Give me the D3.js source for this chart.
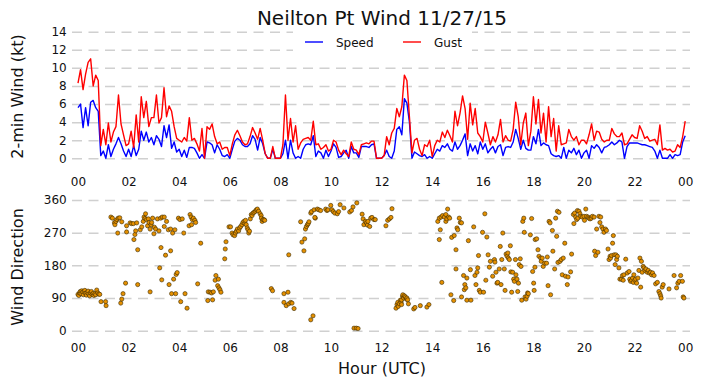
<!DOCTYPE html>
<html>
<head>
<meta charset="utf-8">
<script src="https://cdn.jsdelivr.net/npm/d3@7"></script>
<style>
  body { margin: 0; background: #fff; }
  text { font-family: "DejaVu Sans", sans-serif; fill: #111; }
</style>
</head>
<body>
<svg width="702" height="388"></svg>
<script>
var width = 702;
var height = 388;

// readings every 6 minutes from 00:00 to 24:00 UTC (10 per hour, one row per hour)
var speed = [
  5.6, 6.0, 3.4, 5.6, 3.6, 6.2, 6.4, 5.6, 5.2, 0.3,
  0.8, 0.0, 1.5, 0.2, 1.0, 1.6, 2.3, 1.6, 0.8, 0.2,
  1.0, 0.2, 1.4, 0.3, 1.0, 3.0, 2.0, 2.9, 1.8, 2.3,
  1.5, 2.5, 2.1, 1.3, 3.6, 2.3, 3.7, 1.1, 1.8, 0.7,
  1.0, 0.2, 0.9, 0.1, 1.2, 1.2, 1.1, 0.6, 0.0, 0.4,
  0.0, 1.8, 1.7, 1.5, 0.6, 1.5, 1.0, 0.3, 0.2, 0.4,
  0.0, 1.0, 1.9, 2.2, 2.0, 1.5, 1.3, 1.3, 1.6, 2.5,
  2.1, 0.9, 2.3, 1.6, 0.5, 0.0, 0.0, 1.0, 0.0, 0.0,
  0.0, 0.5, 2.0, 0.0, 2.0, 0.6, 0.0, 0.2, 0.0, 1.0,
  1.5, 1.6, 1.5, 2.5, 0.2, 0.8, 0.6, 0.0, 0.9, 0.2,
  0.8, 1.6, 1.2, 0.1, 0.2, 0.6, 0.9, 0.0, 1.3, 0.6,
  0.6, 0.1, 1.3, 1.3, 1.3, 1.2, 1.5, 1.6, 0.0, 0.0,
  0.0, 0.3, 0.9, 0.2, 0.0, 0.8, 3.2, 3.5, 2.6, 6.6,
  6.1, 4.0, 0.0, 0.7, 0.5, 0.3, 0.2, 0.4, 0.0, 0.2,
  0.0, 0.5, 1.0, 0.8, 1.4, 1.2, 1.6, 1.0, 0.8, 1.8,
  1.0, 1.4, 2.0, 2.7, 0.3, 1.6, 0.8, 1.4, 0.5, 1.8,
  1.0, 1.6, 0.6, 1.0, 1.3, 0.6, 1.3, 1.5, 0.3, 1.2,
  1.3, 1.2, 1.8, 3.2, 2.2, 1.0, 2.0, 1.1, 0.9, 0.9,
  2.4, 1.6, 3.2, 1.4, 1.7, 1.5, 1.4, 0.5, 0.3, 0.2,
  0.3, 0.0, 1.2, 0.0, 0.9, 0.6, 1.1, 0.4, 0.9, 0.0,
  0.6, 0.9, 0.0, 1.4, 1.1, 1.5, 1.2, 0.6, 1.2, 1.3,
  1.5, 1.8, 1.5, 1.7, 2.0, 1.8, 0.0, 1.3, 1.7, 1.7,
  1.7, 1.7, 1.6, 1.5, 1.5, 1.4, 1.3, 1.2, 0.8, 0.0,
  0.9, 0.0, 0.0, 0.0, 0.4, 0.0, 0.4, 0.3, 0.4, 1.8,
  2.5
];
var gust = [
  8.3, 9.8, 7.6, 9.3, 10.6, 11.0, 8.0, 9.2, 8.6, 1.4,
  3.2, 1.5, 3.9, 1.8, 2.9, 3.5, 7.0, 3.8, 2.6, 1.4,
  1.6, 3.0, 1.2, 4.8, 1.8, 6.8, 4.5, 6.3, 3.5, 4.5,
  4.5, 7.0, 3.9, 4.5, 7.8, 4.6, 5.8, 5.2, 3.5, 2.2,
  2.0, 1.8, 2.3, 1.9, 4.5, 2.0, 2.2, 1.6, 0.8, 3.3,
  0.0, 3.5, 3.2, 3.8, 2.4, 1.6, 1.8, 1.0, 1.2, 1.2,
  0.3, 1.6, 2.6, 3.1, 2.5, 1.8, 1.5, 1.6, 2.4, 3.4,
  2.8, 2.1, 3.3, 2.0, 0.5, 0.0, 0.0, 1.3, 0.0, 0.0,
  0.0, 1.5, 7.0, 2.0, 4.4, 1.8, 3.6, 1.0, 1.7, 2.1,
  2.2, 2.3, 2.0, 4.1, 1.5, 1.6, 1.0, 1.2, 1.5, 0.8,
  1.0, 2.0, 1.8, 0.9, 0.4, 0.9, 0.5, 0.2, 1.8, 1.0,
  0.9, 0.4, 1.5, 1.6, 1.7, 1.6, 1.9, 1.9, 0.0, 0.0,
  0.0, 0.3, 2.4, 1.5, 2.8, 3.3, 5.5, 4.6, 5.7, 9.2,
  8.6, 4.6, 0.6, 2.0, 2.2, 1.0, 0.3, 1.5, 1.3, 2.0,
  0.2, 1.4, 2.0, 1.8, 2.9, 2.3, 3.1, 2.5, 1.8, 5.2,
  3.6, 5.0, 6.9, 5.5, 2.1, 6.1, 3.7, 5.5, 2.8, 2.4,
  1.8, 4.0, 2.8, 1.5, 2.4, 1.8, 2.6, 4.3, 1.8, 2.5,
  2.0, 1.9, 3.2, 6.2, 4.6, 1.5, 3.9, 5.0, 1.4, 3.0,
  6.8, 3.8, 6.5, 2.8, 5.0, 1.8, 5.7, 2.4, 4.4, 0.8,
  3.6, 1.5, 1.6, 1.7, 3.2, 2.4, 2.0, 2.4, 1.5, 2.0,
  2.0, 1.6, 2.6, 3.8, 2.0, 3.0, 2.9, 2.1, 1.8, 2.0,
  2.0, 3.3, 2.7, 2.4, 2.4, 2.8, 1.5, 1.6, 2.1, 2.6,
  2.3, 2.2, 3.6, 3.0, 2.2, 2.4, 1.9, 2.0, 2.1, 1.5,
  3.7, 0.9, 1.1, 0.9, 1.0, 0.7, 0.8, 1.5, 1.2, 2.4,
  4.1
];

// wind direction readings: hour (UTC) and degrees
var dirHour = [
  0.00,0.03,0.06,0.09,0.12,0.15,0.18,0.21,0.24,0.27,0.30,0.33,0.36,0.40,0.43,0.46,0.50,0.53,0.56,0.60,
  0.63,0.67,0.70,0.74,0.78,0.82,0.86,0.91,1.09,1.11,
  1.30,1.36,1.44,1.46,1.50,1.54,1.57,1.59,1.65,1.69,1.73,1.73,1.78,1.88,1.92,1.92,
  2.06,2.12,2.19,2.21,2.25,2.28,2.32,2.36,2.36,2.46,2.52,2.58,2.61,2.65,2.67,2.71,2.75,2.78,2.81,2.85,2.85,2.89,2.91,2.95,
  3.00,3.02,3.07,3.14,3.20,3.23,3.27,3.28,3.31,3.33,3.41,3.41,3.46,3.50,3.57,3.60,3.66,3.66,3.70,3.74,3.78,3.83,3.86,3.88,3.92,3.97,
  4.03,4.06,4.12,4.18,4.23,4.31,4.39,4.43,4.47,4.49,4.52,4.56,4.62,4.65,4.73,4.85,
  5.13,5.15,5.22,5.28,5.32,5.35,5.42,5.45,5.52,5.55,5.57,5.61,5.65,5.80,5.82,5.85,5.97,
  6.03,6.09,6.13,6.19,6.22,6.26,6.30,6.35,6.39,6.43,6.48,6.52,6.56,6.60,6.62,6.65,6.69,6.72,6.75,6.78,
  6.81,6.85,6.88,6.92,6.96,7.01,7.05,7.09,7.14,7.20,7.24,7.25,7.28,7.31,7.35,7.38,
  7.64,7.69,8.14,8.14,8.23,8.30,8.33,8.33,8.41,8.46,8.54,
  8.80,8.85,8.93,8.96,8.99,9.03,9.07,9.10,9.13,9.20,9.29,9.20,9.23,9.33,9.38,9.36,9.46,9.52,9.59,9.79,
  9.84,9.88,9.99,10.04,10.09,10.15,10.25,10.30,10.36,10.51,10.74,10.81,10.87,10.91,11.00,11.02,11.07,
  11.23,11.27,11.30,11.36,11.40,11.44,11.46,11.53,11.57,11.62,11.70,11.75,12.17,12.24,12.31,12.37,12.41,
  12.57,12.61,12.64,12.66,12.70,12.74,12.77,12.79,12.79,12.83,12.84,12.87,12.90,12.94,12.98,13.00,13.03,13.06,
  13.27,13.32,13.53,13.79,13.87,
  14.22,14.28,14.28,14.32,14.35,14.38,14.41,14.48,14.54,14.54,14.58,14.61,14.65,14.69,14.74,14.77,14.85,14.87,14.94,14.94,
  14.98,15.01,15.07,15.11,15.16,15.16,15.24,15.27,15.29,15.33,15.37,15.37,15.43,15.51,15.53,15.64,15.69,15.73,15.77,15.80,
  15.83,15.86,15.90,15.99,16.03,16.08,16.12,16.16,16.21,16.26,16.30,16.39,16.46,16.48,16.52,16.56,16.59,16.65,16.69,16.72,
  16.75,16.79,16.85,16.88,16.92,16.96,16.99,17.01,17.05,17.09,17.11,17.14,17.18,17.22,17.25,17.29,17.31,17.35,17.38,17.41,
  17.44,17.48,17.51,17.54,17.58,17.62,17.64,17.67,17.71,17.75,17.77,17.80,17.88,17.93,17.97,18.01,18.03,18.06,18.07,
  18.13,18.18,18.22,18.29,18.31,18.35,18.39,18.45,18.52,18.55,18.58,18.62,18.66,18.68,18.75,18.77,18.84,18.88,18.92,18.95,
  18.97,19.01,19.05,19.10,19.14,19.18,19.24,19.27,19.34,19.37,19.47,19.51,19.58,19.60,19.63,19.67,19.71,19.74,19.76,19.80,
  19.84,19.87,19.93,20.00,20.02,20.07,20.10,20.16,20.20,20.24,20.29,20.33,20.40,20.42,20.46,20.50,20.55,20.59,20.63,20.66,
  20.70,20.75,20.79,20.85,20.89,20.95,20.99,21.03,21.05,21.09,21.13,21.16,21.19,21.23,21.26,21.29,21.32,21.38,21.42,21.48,
  21.52,21.55,21.58,21.65,21.71,21.78,21.81,21.84,21.88,21.92,21.95,21.97,22.01,22.04,22.08,22.13,22.17,22.21,22.24,22.27,
  22.30,22.34,22.37,22.41,22.45,22.50,22.54,22.58,22.63,22.67,22.71,22.77,22.83,22.90,22.96,23.00,23.03,23.05,23.09,23.13,
  23.36,23.56,23.66,23.71,23.76,23.82,23.89,23.92,23.95
];
var dirDeg = [
  100,97,104,108,102,110,106,99,107,111,103,98,105,109,101,96,104,108,100,103,
  97,102,99,112,104,101,100,80,80,69,
  313,310,297,292,301,306,269,310,311,76,87,300,102,131,289,272,
  297,295,295,251,265,275,297,223,127,278,286,301,313,309,322,306,289,308,298,280,107,292,298,310,
  267,285,280,308,275,173,310,229,140,313,313,287,208,301,278,127,280,220,102,269,142,278,102,155,160,310,
  306,80,308,269,102,62,289,320,313,292,306,310,304,298,129,241,
  83,107,106,104,85,107,139,152,124,142,118,113,106,198,225,245,286,
  286,269,264,262,269,274,280,275,283,287,292,298,301,295,304,292,283,278,269,274,
  308,320,317,324,326,329,333,335,329,322,317,310,301,306,306,304,
  116,110,102,78,69,106,74,209,78,76,61,
  300,244,220,253,280,287,292,295,300,30,41,324,328,333,310,312,335,333,331,335,
  331,333,345,333,328,324,322,328,347,338,327,331,341,7,7,352,6,
  321,308,292,301,297,291,301,287,310,312,306,306,289,304,308,312,336,
  62,72,78,67,74,84,78,85,72,95,99,90,96,93,87,90,85,74,
  60,64,69,65,72,
  301,310,251,278,313,133,317,313,320,301,308,335,313,310,99,257,83,262,223,170,
  283,278,310,298,297,93,152,113,127,118,145,84,248,168,84,286,152,127,161,173,
  207,111,106,271,106,322,139,258,209,175,191,150,196,189,161,131,133,170,232,127,
  196,269,170,111,211,205,214,200,196,234,162,106,161,142,136,196,154,142,108,131,
  182,198,177,84,301,310,271,93,87,95,104,102,264,309,163,131,111,175,251,
  253,223,205,200,191,200,177,186,186,203,124,301,297,99,276,219,170,310,260,329,
  188,326,191,196,154,200,241,150,127,148,162,211,320,295,324,313,306,331,310,329,
  322,315,313,315,304,335,315,313,310,308,310,315,313,219,207,280,216,315,298,313,
  286,280,271,280,276,225,196,205,200,207,241,262,209,182,209,196,205,173,142,142,
  152,139,154,197,159,163,142,136,139,145,133,154,139,142,131,145,166,200,120,191,
  161,177,173,166,170,161,166,159,161,154,159,152,129,133,108,102,96,90,120,127,
  115,152,118,131,136,152,136,93,90
];

var hourTicks = [0, 2, 4, 6, 8, 10, 12, 14, 16, 18, 20, 22, 24];
var windTicks = [0, 2, 4, 6, 8, 10, 12, 14];
var dirTicks = [0, 90, 180, 270, 360];

var svg = d3.select('svg');

var x = d3.scaleLinear().domain([0, 24]).range([78, 685.2]);
var yWind = d3.scaleLinear().domain([0, 14]).range([158.3, 31.7]);
var yDir = d3.scaleLinear().domain([0, 360]).range([330.7, 200]);

var hourFormat = function (d) { return d3.format("02d")(d % 24); };

// gridlines + y tick labels
function drawGrid(scale, ticks) {
    var g = svg.append("g")
        .attr("transform", "translate(72,0)")
        .call(d3.axisLeft(scale).tickValues(ticks).tickSize(-618).tickPadding(5.3));
    g.select(".domain").remove();
    g.selectAll(".tick line")
        .attr("stroke", "#d0d0d0")
        .attr("stroke-width", 1.5)
        .attr("stroke-dasharray", "10,6.5");
    g.selectAll(".tick text")
        .attr("font-size", "12px")
        .attr("font-family", "DejaVu Sans")
        .attr("fill", "#111");
    return g;
}

function drawHours(yPos) {
    var g = svg.append("g")
        .attr("transform", "translate(0," + yPos + ")")
        .call(d3.axisBottom(x).tickValues(hourTicks).tickFormat(hourFormat).tickSize(0).tickPadding(0));
    g.select(".domain").remove();
    g.selectAll(".tick text")
        .attr("font-size", "12px")
        .attr("font-family", "DejaVu Sans")
        .attr("fill", "#111");
}

drawGrid(yWind, windTicks);
drawGrid(yDir, dirTicks);
drawHours(177);
drawHours(343);

// speed / gust lines
var windLine = function (values) {
    return d3.line()
        .x(function (d, i) { return x(i / 10); })
        .y(function (d) { return yWind(d); })(values);
};

svg.append("path")
    .attr("d", windLine(speed))
    .attr("fill", "none")
    .attr("stroke", "#0000ff")
    .attr("stroke-width", 1.4)
    .attr("stroke-linejoin", "round");

svg.append("path")
    .attr("d", windLine(gust))
    .attr("fill", "none")
    .attr("stroke", "#ff0000")
    .attr("stroke-width", 1.4)
    .attr("stroke-linejoin", "round");

// wind direction dots
svg.append("g").selectAll("circle")
    .data(dirHour)
    .enter()
    .append("circle")
    .attr("cx", function (d) { return x(d); })
    .attr("cy", function (d, i) { return yDir(dirDeg[i]); })
    .attr("r", 2.1)
    .attr("fill", "#e59000")
    .attr("stroke", "#3a2a00")
    .attr("stroke-width", 0.6);

// legend (white box hides the gridlines behind it)
var legend = svg.append("g");
legend.append("rect")
    .attr("x", 293).attr("y", 28)
    .attr("width", 179).attr("height", 29)
    .attr("fill", "#fff");
legend.append("line")
    .attr("x1", 305).attr("x2", 323).attr("y1", 42).attr("y2", 42)
    .attr("stroke", "#0000ff").attr("stroke-width", 1.4);
legend.append("text")
    .attr("x", 336).attr("y", 46.5)
    .attr("font-size", "12px")
    .text("Speed");
legend.append("line")
    .attr("x1", 403).attr("x2", 421).attr("y1", 42).attr("y2", 42)
    .attr("stroke", "#ff0000").attr("stroke-width", 1.4);
legend.append("text")
    .attr("x", 434).attr("y", 46.5)
    .attr("font-size", "12px")
    .text("Gust");

// titles
svg.append("text")
    .attr("x", 382).attr("y", 25)
    .attr("text-anchor", "middle")
    .attr("font-size", "20px")
    .text("Neilton Pt Wind 11/27/15");

svg.append("text")
    .attr("transform", "translate(23,96.5) rotate(-90)")
    .attr("text-anchor", "middle")
    .attr("font-size", "16px")
    .text("2-min Wind (kt)");

svg.append("text")
    .attr("transform", "translate(23,267) rotate(-90)")
    .attr("text-anchor", "middle")
    .attr("font-size", "16px")
    .text("Wind Direction");

svg.append("text")
    .attr("x", 382).attr("y", 374)
    .attr("text-anchor", "middle")
    .attr("font-size", "16px")
    .text("Hour (UTC)");
</script>
</body>
</html>
